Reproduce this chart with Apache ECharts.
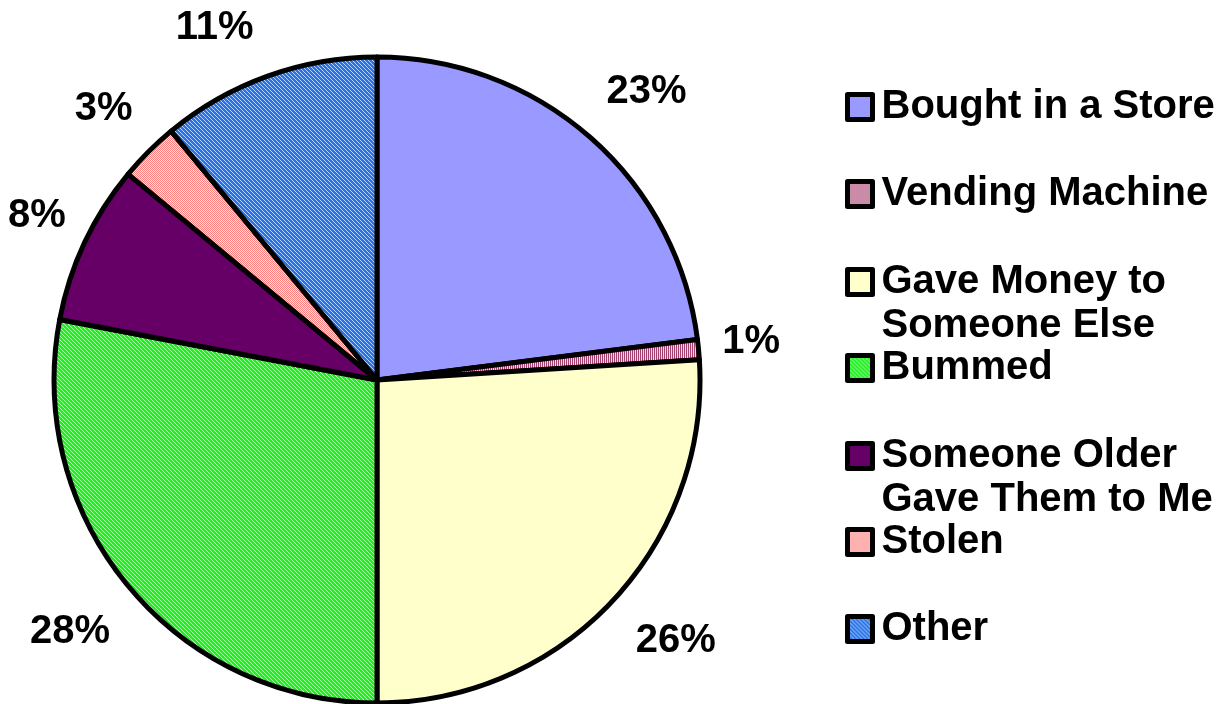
<!DOCTYPE html>
<html>
<head>
<meta charset="utf-8">
<script src="https://cdn.jsdelivr.net/npm/echarts@6/dist/echarts.min.js"></script>
<style>
  html, body { margin: 0; padding: 0; background: #fff; }
  #chart { width: 1229px; height: 704px; }
</style>
</head>
<body>
<div id="chart"></div>
<script>
const categories = [
  "Bought in a Store",
  "Vending Machine",
  "Gave Money to\nSomeone Else",
  "Bummed",
  "Someone Older\nGave Them to Me",
  "Stolen",
  "Other",
];
const percents = [23, 1, 26, 28, 8, 3, 11];

// outer top of each legend box, px
const legendTops = [91, 178, 265, 352, 439, 526, 613];
// small nudges so the % labels sit where the original put them
const labelShift = [[13, 3], [-12, -2], [16, -5], [-8, 5], [11, 1], [1, 3], [-31, 13]];

const FONT = '"Liberation Sans", Arial, sans-serif';

// small tiled fills for the hatched slices
function makeTile(w, h, draw) {
  const c = document.createElement("canvas");
  c.width = w;
  c.height = h;
  draw(c.getContext("2d"));
  return { image: c, repeat: "repeat" };
}

const stripes = makeTile(2, 2, (g) => {
  g.fillStyle = "#f2d6e4"; g.fillRect(0, 0, 2, 2);
  g.fillStyle = "#a3416f"; g.fillRect(0, 0, 1, 2);
});
const greenHatch = makeTile(4, 4, (g) => {
  g.fillStyle = "#22ee22"; g.fillRect(0, 0, 4, 4);
  g.fillStyle = "#a8ffa8";
  for (let i = 0; i < 4; i++) g.fillRect(i, i, 1, 1);
});
const pinkCheck = makeTile(2, 2, (g) => {
  g.fillStyle = "#ffe4e4"; g.fillRect(0, 0, 2, 2);
  g.fillStyle = "#ff7f7f"; g.fillRect(0, 0, 1, 1); g.fillRect(1, 1, 1, 1);
});
const blueHatch = makeTile(4, 4, (g) => {
  g.fillStyle = "#2a72e6"; g.fillRect(0, 0, 4, 4);
  g.fillStyle = "#b4d4ff";
  for (let i = 0; i < 4; i++) g.fillRect(i, i, 1, 1);
});

const fills = ["#9999ff", stripes, "#ffffcc", greenHatch, "#660066", pinkCheck, blueHatch];

const pieData = categories.map((name, i) => ({
  name,
  value: percents[i],
  itemStyle: { color: fills[i] },
}));

const labelData = categories.map((name, i) => ({
  name,
  value: percents[i],
  label: { offset: labelShift[i] },
}));

const legends = categories.map((name, i) => {
  const twoLines = name.includes("\n");
  const iconTop = legendTops[i] + 2;
  return {
    left: 845,
    top: twoLines ? iconTop - 51 : iconTop - 8,
    padding: 0,
    itemWidth: 25,
    itemHeight: 25,
    itemStyle: { borderColor: "#000", borderWidth: 5 },
    // blank first line keeps the icon level with the first text line
    formatter: (n) => (n.includes("\n") ? "\n" + n : n),
    textStyle: {
      fontFamily: FONT,
      fontSize: 40,
      fontWeight: "bold",
      color: "#000",
      lineHeight: 44,
      padding: [0, 0, 0, 4],
    },
    data: [{ name, icon: "rect" }],
  };
});

const chart = echarts.init(document.getElementById("chart"));
chart.setOption({
  animation: false,
  legend: legends,
  series: [
    {
      name: "source",
      type: "pie",
      center: [377, 380],
      radius: 323,
      startAngle: 90,
      clockwise: true,
      label: { show: false },
      labelLine: { show: false },
      itemStyle: { borderColor: "#000", borderWidth: 5 },
      emphasis: { disabled: true },
      data: pieData,
    },
    {
      name: "labels",
      type: "pie",
      center: [377, 380],
      radius: [345, 425],
      startAngle: 90,
      clockwise: true,
      silent: true,
      itemStyle: { color: "rgba(0,0,0,0)", borderWidth: 0 },
      label: {
        show: true,
        position: "inside",
        formatter: "{c}%",
        fontFamily: FONT,
        fontSize: 40,
        fontWeight: "bold",
        color: "#000",
      },
      labelLine: { show: false },
      emphasis: { disabled: true },
      data: labelData,
    },
  ],
});
</script>
</body>
</html>
